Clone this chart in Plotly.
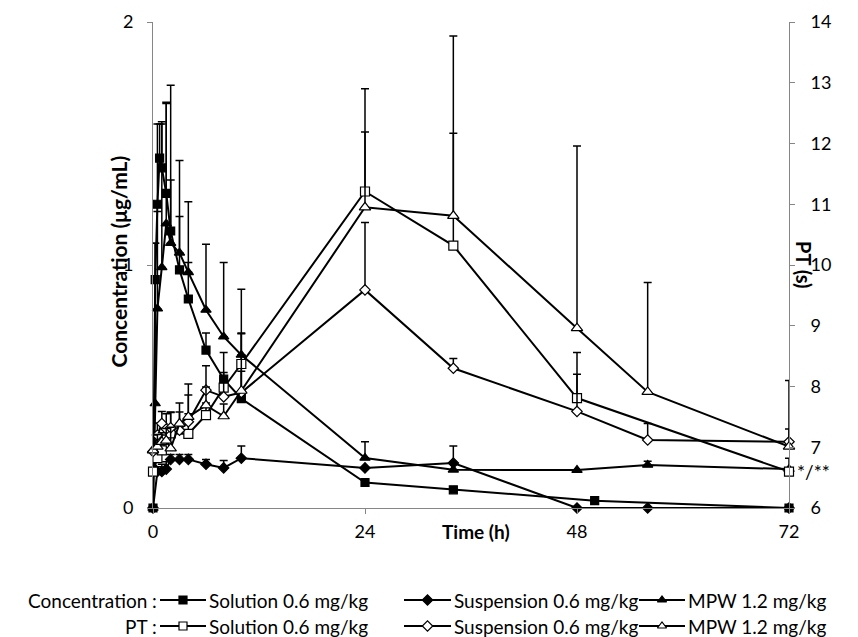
import plotly.graph_objects as go

# ---------------- data ----------------
conc_sol_t = [0, 0.25, 0.5, 0.75, 1, 1.5, 2, 3, 4, 6, 8, 10, 24, 34, 50, 72]
conc_sol_v = [0, 0.94, 1.25, 1.44, 1.40, 1.295, 1.14, 0.98, 0.86, 0.65, 0.53, 0.45, 0.105, 0.075, 0.03, 0]
conc_sol_sd = [0, 0.15, 0.33, 0.14, 0.18, 0.37, 0.60, 0.45, 0.15, 0.07, 0.11, 0.27, 0, 0, 0, 0]

conc_sus_t = [0, 0.5, 1, 1.5, 2, 3, 4, 6, 8, 10, 24, 34, 48, 56, 72]
conc_sus_v = [0, 0.15, 0.15, 0.16, 0.20, 0.20, 0.20, 0.18, 0.165, 0.205, 0.165, 0.185, 0, 0, 0]
conc_sus_sd = [0, 0.02, 0.03, 0.03, 0.02, 0.02, 0.02, 0.02, 0.03, 0.05, 0, 0.07, 0, 0, 0]

conc_mpw_t = [0, 0.25, 0.5, 1, 1.5, 2, 3, 4, 6, 8, 10, 24, 34, 48, 56, 72]
conc_mpw_v = [0, 0.43, 0.82, 0.99, 1.17, 1.09, 1.05, 0.97, 0.815, 0.705, 0.63, 0.206, 0.157, 0.156, 0.177, 0.16]
conc_mpw_sd = [0, 0.66, 0.40, 0.60, 0.50, 0.26, 0.15, 0.29, 0.27, 0.305, 0.27, 0.067, 0, 0, 0.015, 0]

pt_sol_t = [0, 0.5, 1, 2, 4, 6, 8, 10, 24, 34, 48, 72]
pt_sol_v = [6.6, 6.82, 6.95, 7.23, 7.22, 7.53, 7.98, 8.37, 11.21, 10.32, 7.81, 6.6]
pt_sol_sd = [0.1, 0.35, 0.25, 0.35, 0.33, 0.2, 0.25, 0.5, 0.98, 1.85, 0.75, 0.22]

pt_sus_t = [0, 0.5, 1, 1.5, 2, 3, 4, 6, 8, 10, 24, 34, 48, 56, 72]
pt_sus_v = [6.93, 7.2, 7.39, 7.3, 7.32, 7.28, 7.42, 7.94, 7.83, 7.9, 9.59, 8.30, 7.59, 7.12, 7.09]
pt_sus_sd = [0.25, 0.2, 0.2, 0.25, 0.25, 0.3, 0.44, 0.4, 0.3, 0.35, 1.11, 0.16, 0.61, 0.27, 0.21]

pt_mpw_t = [0, 0.5, 1, 1.5, 2, 3, 4, 6, 8, 10, 24, 34, 48, 56, 72]
pt_mpw_v = [6.95, 7.01, 7.09, 7.11, 6.98, 7.39, 7.50, 7.69, 7.51, 7.93, 10.95, 10.81, 8.96, 7.91, 7.01]
pt_mpw_sd = [0.25, 0.2, 0.15, 0.2, 0.35, 0.34, 0.54, 0.3, 0.2, 0.59, 1.95, 2.96, 3.0, 1.8, 1.09]

x_ticks = [0, 24, 48, 72]
left_ticks = [0, 1, 2]
right_ticks = [6, 7, 8, 9, 10, 11, 12, 13, 14]

legend_rows = ["Concentration :", "PT :"]
legend_names = ["Solution 0.6 mg/kg", "Suspension 0.6 mg/kg", "MPW 1.2 mg/kg"]

# ---------------- layout geometry (page pixels; body margin of 8px compensated) ----------------
OFF = 8
W, H = 858 - OFF, 637 - OFF
X0, X1 = 153, 789
Y0, Y1 = 22, 508
FONT = "Lato"
AX = "#868686"
TICK_SIZE = 18


def px(x):
    return (x - OFF) / W


def py(y):
    return 1 - (y - OFF) / H


fig = go.Figure()


def err(sd):
    return dict(type="data", symmetric=False, array=sd, arrayminus=[0] * len(sd),
                color="black", thickness=1.5, width=4)


def add(t, v, sd, symbol, fill, size, yaxis):
    fig.add_trace(go.Scatter(
        x=t, y=v, mode="lines+markers", yaxis=yaxis, xaxis="x",
        line=dict(color="black", width=2),
        marker=dict(symbol=symbol, size=size, color=fill,
                    line=dict(color="black", width=1.2)),
        error_y=err(sd), showlegend=False, cliponaxis=False))


add(conc_sol_t, conc_sol_v, conc_sol_sd, "square", "black", 8, "y")
add(conc_sus_t, conc_sus_v, conc_sus_sd, "diamond", "black", 8, "y")
add(conc_mpw_t, conc_mpw_v, conc_mpw_sd, "triangle-up", "black", 9, "y")
add(pt_sol_t, pt_sol_v, pt_sol_sd, "square", "white", 9, "y2")
add(pt_sus_t, pt_sus_v, pt_sus_sd, "diamond", "white", 8, "y2")
add(pt_mpw_t, pt_mpw_v, pt_mpw_sd, "triangle-up", "white", 10, "y2")

# ---------------- legend samples on an overlay pixel axis ----------------
row_y = [600, 626]
item_x = [(160, 206), (404, 451), (639, 685)]
symbols = ["square", "diamond", "triangle-up"]
fills = [["black"] * 3, ["white"] * 3]
for r, yy in enumerate(row_y):
    for i, (xa, xb) in enumerate(item_x):
        fig.add_trace(go.Scatter(
            x=[xa, xb], y=[yy, yy], mode="lines", xaxis="x3", yaxis="y3",
            line=dict(color="black", width=2), showlegend=False, hoverinfo="skip"))
        fig.add_trace(go.Scatter(
            x=[(xa + xb) / 2], y=[yy], mode="markers", xaxis="x3", yaxis="y3",
            marker=dict(symbol=symbols[i], size=8, color=fills[r][i],
                        line=dict(color="black", width=1.2)),
            showlegend=False, hoverinfo="skip"))

ann = []
for r, yy in enumerate(row_y):
    ann.append(dict(x=px(159), y=py(yy), xref="paper", yref="paper", text=legend_rows[r],
                    showarrow=False, xanchor="right", yanchor="middle",
                    font=dict(family=FONT, size=19, color="black")))
    for i, (xa, xb) in enumerate(item_x):
        ann.append(dict(x=px(xb + 1), y=py(yy), xref="paper", yref="paper",
                        text=legend_names[i], showarrow=False, xanchor="left", yanchor="middle",
                        font=dict(family=FONT, size=19, color="black")))

# axis titles
ann.append(dict(x=px(104), y=py(262), xref="paper", yref="paper",
                text="<b>Concentration (μg/mL)</b>", textangle=-90, showarrow=False,
                font=dict(family=FONT, size=21, color="black")))
ann.append(dict(x=px(818), y=py(265), xref="paper", yref="paper",
                text="<b>PT (s)</b>", textangle=90, showarrow=False,
                font=dict(family=FONT, size=20, color="black")))
ann.append(dict(x=px(476), y=py(545), xref="paper", yref="paper",
                text="<b>Time (h)</b>", showarrow=False,
                font=dict(family=FONT, size=19, color="black")))
# significance mark next to last PT solution point
ann.append(dict(x=pt_sol_t[-1], y=pt_sol_v[-1], xref="x", yref="y2", text="*/**",
                showarrow=False, xanchor="left", yanchor="middle", xshift=6,
                font=dict(family=FONT, size=19, color="black")))

fig.update_layout(
    width=W, height=H,
    margin=dict(l=0, r=0, t=0, b=0, pad=0),
    paper_bgcolor="white", plot_bgcolor="rgba(0,0,0,0)",
    font=dict(family=FONT, size=TICK_SIZE, color="black"),
    showlegend=False,
    annotations=ann,
    xaxis=dict(domain=[px(X0), px(X1)], range=[0, 72], tickvals=x_ticks, automargin=False,
               showgrid=False, zeroline=False, showline=True, linecolor=AX, linewidth=1,
               ticks="outside", ticklen=5, tickcolor=AX, anchor="y",
               ticklabelstandoff=2,
               tickfont=dict(family=FONT, size=TICK_SIZE, color="black")),
    yaxis=dict(domain=[py(Y1), py(Y0)], range=[0, 2], tickvals=left_ticks, automargin=False,
               showgrid=False, zeroline=False, showline=True, linecolor=AX, linewidth=1,
               ticks="outside", ticklen=5, tickcolor=AX, anchor="x",
               ticklabelstandoff=10,
               tickfont=dict(family=FONT, size=TICK_SIZE, color="black")),
    yaxis2=dict(domain=[py(Y1), py(Y0)], range=[6, 14], tickvals=right_ticks, automargin=False,
                overlaying="y", side="right", anchor="x",
                showgrid=False, zeroline=False, showline=True, linecolor=AX, linewidth=1,
                ticks="outside", ticklen=5, tickcolor=AX, ticklabelstandoff=12,
                tickfont=dict(family=FONT, size=TICK_SIZE, color="black")),
    xaxis3=dict(domain=[0, 1], range=[OFF, 858], visible=False, anchor="y3", fixedrange=True, automargin=False),
    yaxis3=dict(domain=[0, 1], range=[637, OFF], visible=False, anchor="x3", fixedrange=True, automargin=False),
)

fig.write_html("out.html")
